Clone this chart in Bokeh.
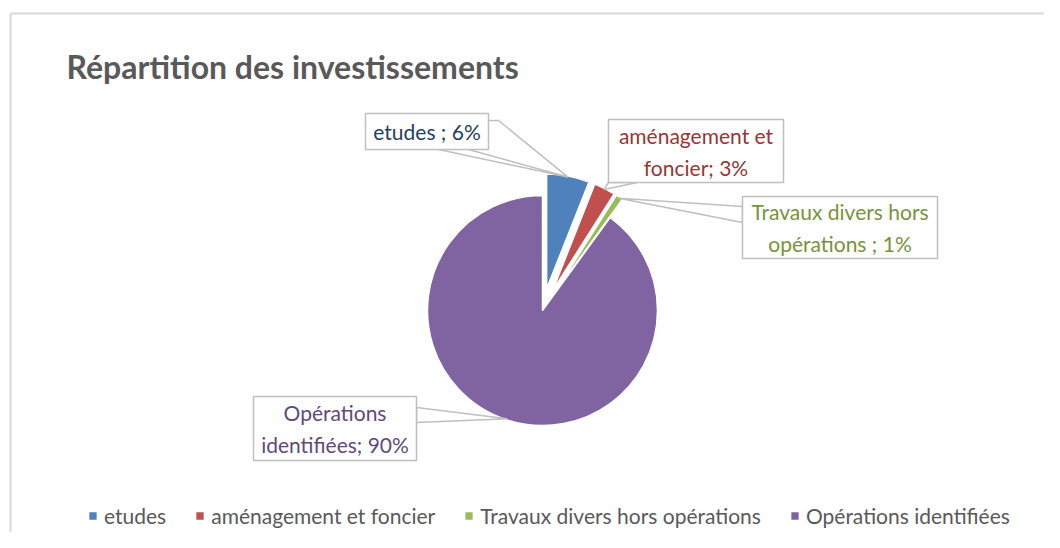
import math
from bokeh.plotting import figure
from bokeh.models import Range1d, ColumnDataSource, Legend, LegendItem
from bokeh.core.properties import value
from bokeh.embed import file_html
from bokeh.resources import INLINE

# ---------------- data ----------------
title_text = "Répartition des investissements"
categories = ["etudes", "aménagement et foncier",
              "Travaux divers hors opérations", "Opérations identifiées"]
values = [6, 3, 1, 90]
label_names = ["etudes ;", "aménagement et\nfoncier;", "Travaux divers hors\nopérations ;",
               "Opérations\nidentifiées;"]

# ---------------- styles / layout ----------------
colors = ["#4f81bd", "#c0504d", "#9bbb59", "#8064a2"]
label_colors = ["#243f60", "#953735", "#77933c", "#604a7b"]
explode = [22, 22, 22, 0]
FONT = "Lato"

W, H = 1044, 532


def Y(img_y):
    return H - img_y


CX, CY, R = 542, Y(310), 115

# label boxes (left, top, right, bottom) in image pixels, and pointer base points
boxes = [(365, 113, 488, 149), (608, 119, 783, 182),
         (742, 196, 937, 258), (253, 396, 416, 460)]
pointer_bases = [[(488, 120), (498, 120), None, (438, 149)],
                 [(608, 182), None, (637, 182)],
                 [(742, 206), None, (742, 222)],
                 [(416, 407), None, (416, 422)]]
extra_lines = [[(468, 149)], [], [], []]

p = figure(width=W, height=H, x_range=Range1d(0, W), y_range=Range1d(0, H),
           output_backend="svg", toolbar_location=None, min_border=0,
           background_fill_color="white", border_fill_color="white")
p.axis.visible = False
p.grid.visible = False
p.outline_line_color = None

# chart frame (light gray)
p.line([10, W], [Y(13), Y(13)], line_color="#d9d9d9", line_width=2)
p.line([10, 10], [Y(13), 0], line_color="#d9d9d9", line_width=2)

# ---------------- pie ----------------
total = float(sum(values))
xs, ys, a_start, a_end, mids, pcts = [], [], [], [], [], []
cum = 0.0
for v, d in zip(values, explode):
    a0 = math.pi / 2 - 2 * math.pi * cum / total
    a1 = math.pi / 2 - 2 * math.pi * (cum + v) / total
    mid = (a0 + a1) / 2
    xs.append(CX + d * math.cos(mid))
    ys.append(CY + d * math.sin(mid))
    a_start.append(a1)
    a_end.append(a0)
    mids.append(mid)
    pcts.append("%d%%" % round(100 * v / total))
    cum += v

src = ColumnDataSource(dict(x=xs, y=ys, start=a_start, end=a_end, color=colors, cat=categories))
wr = p.wedge(x="x", y="y", radius=R, start_angle="start", end_angle="end",
             fill_color="color", line_color="white", line_width=1.5, source=src)

# ---------------- callouts ----------------
for i in range(len(values)):
    tx = xs[i] + 0.99 * R * math.cos(mids[i])
    ty = ys[i] + 0.99 * R * math.sin(mids[i])
    pts = [(tx, ty) if b is None else (b[0], Y(b[1])) for b in pointer_bases[i]]
    p.patch([q[0] for q in pts], [q[1] for q in pts], fill_color="white",
            line_color="#bfbfbf", line_width=1.5)
    for e in extra_lines[i]:
        p.line([e[0], tx], [Y(e[1]), ty], line_color="#bfbfbf", line_width=1.5)
    l, t, r_, b = boxes[i]
    p.quad(left=l, right=r_, top=Y(t), bottom=Y(b), fill_color="white",
           line_color="#bfbfbf", line_width=1.5)
    p.text(x=[(l + r_) / 2], y=[Y((t + b) / 2)], text=[label_names[i] + " " + pcts[i]],
           text_color=label_colors[i], text_font=value(FONT), text_font_size="21px",
           text_align="center", text_baseline="middle", text_line_height=1.28)

# ---------------- title ----------------
p.text(x=[66], y=[Y(66)], text=[title_text], text_color="#595959",
       text_font=value(FONT), text_font_size="32px", text_font_style="bold",
       text_align="left", text_baseline="alphabetic")

# ---------------- legend ----------------
legend = Legend(items=[LegendItem(label=c, renderers=[wr], index=i) for i, c in enumerate(categories)],
                orientation="horizontal", location=(87, 4),
                label_text_font=FONT, label_text_font_size="21px", label_text_color="#595959",
                glyph_width=11, glyph_height=11, label_standoff=6, spacing=28,
                padding=0, margin=0, border_line_color=None, background_fill_alpha=0)
p.add_layout(legend)

open("out.html", "w").write(file_html(p, INLINE))
